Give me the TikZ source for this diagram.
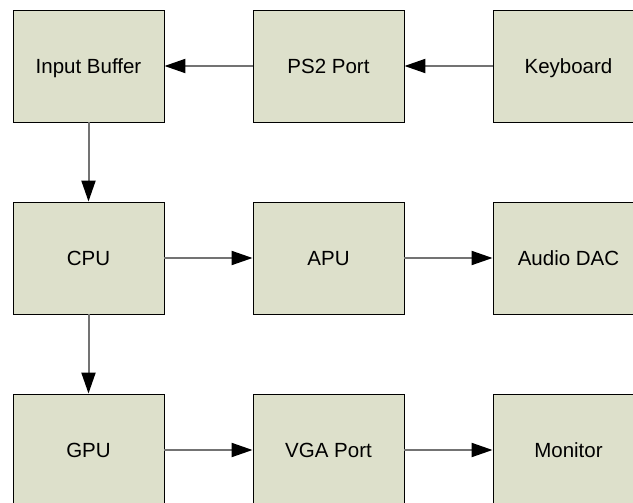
\documentclass[tikz,border=0pt]{standalone}
\usepackage{fontspec}
\setmainfont{Liberation Sans}
\usetikzlibrary{arrows.meta}
\definecolor{boxfill}{RGB}{221,224,203}
\definecolor{wire}{RGB}{115,115,115}
\tikzset{
  blockbox/.style={draw=black, line width=0.9pt, fill=boxfill, minimum width=151pt,
    minimum height=112pt, inner sep=0pt, text height=14.5pt, text depth=0pt,
    font=\fontsize{20.5}{24}\selectfont},
  flow/.style={draw=wire, line width=2pt,
    -{Triangle[length=21pt,width=14pt,color=black]}}
}
\begin{document}
\begin{tikzpicture}[x=1pt,y=-1pt]
  \useasboundingbox (0,0) rectangle (633,503);
  \clip (0,0) rectangle (633,503);
  % top row
  \node[blockbox] (ib)  at (88.5,66)  {Input Buffer};
  \node[blockbox] (ps2) at (328.5,66) {PS2 Port};
  \node[blockbox] (kb)  at (568.5,66) {Keyboard};
  % middle row
  \node[blockbox] (cpu) at (88.5,258)  {CPU};
  \node[blockbox] (apu) at (328.5,258) {APU};
  \node[blockbox] (dac) at (568.5,258) {Audio DAC};
  % bottom row
  \node[blockbox] (gpu) at (88.5,450)  {GPU};
  \node[blockbox] (vga) at (328.5,450) {VGA Port};
  \node[blockbox] (mon) at (568.5,450) {Monitor};
  % connectors
  \draw[flow] (kb.west) -- (ps2.east);
  \draw[flow] (ps2.west) -- (ib.east);
  \draw[flow] (ib.south) -- (cpu.north);
  \draw[flow] (cpu.east) -- (apu.west);
  \draw[flow] (apu.east) -- (dac.west);
  \draw[flow] (cpu.south) -- (gpu.north);
  \draw[flow] (gpu.east) -- (vga.west);
  \draw[flow] (vga.east) -- (mon.west);
\end{tikzpicture}
\end{document}
